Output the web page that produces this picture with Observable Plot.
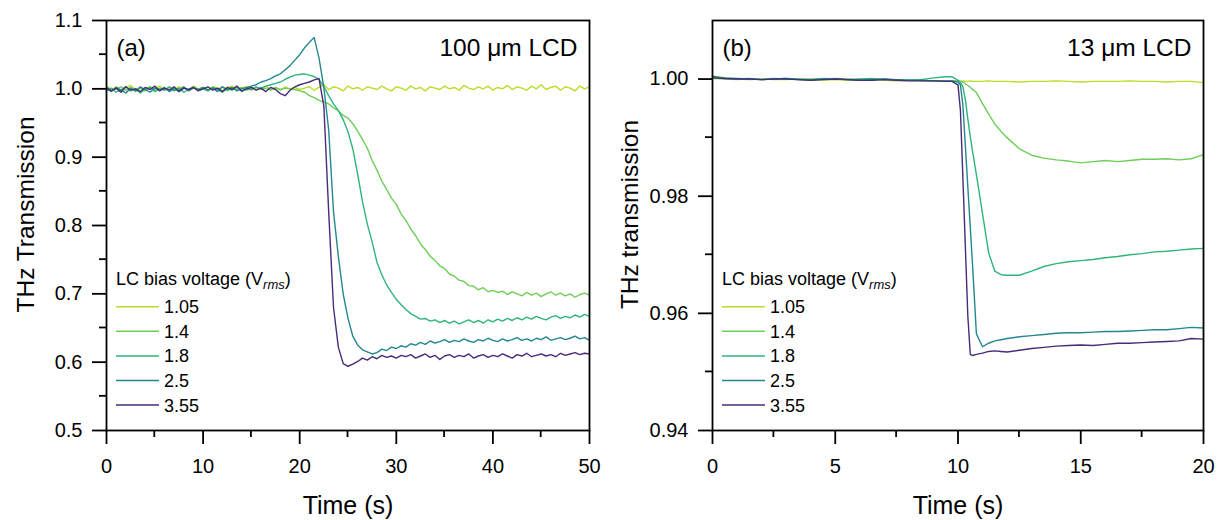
<!DOCTYPE html>
<html><head><meta charset="utf-8">
<script src="https://cdn.jsdelivr.net/npm/d3@7"></script>
<script src="https://cdn.jsdelivr.net/npm/@observablehq/plot@0.6"></script>
<style>
body{margin:0;background:#fff;}
#wrap{display:flex;width:1222px;height:520px;}
</style></head><body><div id="wrap"></div>
<script>
const FONT = "'Liberation Sans', Arial, sans-serif";
const voltages = ["1.05","1.4","1.8","2.5","3.55"];
const colors = ["#b8de29","#6ece58","#2fb47c","#23888e","#472c7a"];

// Panel (a): 100 um LCD, sampled every 0.5 s from 0 to 50 s
const timeA = d3.range(101).map(i => i / 2);
const a105 = [1.004,0.999,1.003,0.998,1.002,1.005,0.999,1.001,0.997,1.003,1.000,1.004,0.998,1.002,0.999,1.003,1.001,0.998,1.004,1.000,1.002,
 0.999,1.003,1.001,0.997,1.002,1.004,0.999,1.001,1.003,0.998,1.002,1.000,1.004,0.999,1.001,0.998,1.003,1.000,1.002,0.999,
 1.001,1.003,0.998,1.002,1.006,0.999,1.003,1.001,0.997,1.004,1.000,1.002,0.998,1.003,1.001,0.999,1.004,1.000,0.997,1.003,
 1.001,0.998,1.004,1.000,1.002,0.997,1.003,1.001,0.999,1.004,1.000,1.002,0.998,1.005,1.001,0.999,1.003,1.000,1.004,0.998,
 1.002,1.000,1.005,0.999,1.003,1.001,0.998,1.004,1.000,1.006,0.999,1.002,1.004,0.998,1.003,1.001,0.997,1.004,1.000,1.003];
const a14 = [1.001,0.997,1.000,1.003,0.998,1.002,0.996,1.001,0.999,1.003,0.997,1.001,0.998,1.002,1.000,0.996,1.001,0.998,1.003,0.999,1.001,
 0.998,1.002,0.999,1.003,0.997,1.001,0.999,1.002,0.998,1.000,1.003,0.999,1.001,0.998,1.002,0.999,1.001,1.000,0.999,0.997,
 0.995,0.990,0.987,0.983,0.981,0.978,0.972,0.968,0.961,0.957,0.949,0.938,0.926,0.913,0.895,0.881,0.865,0.853,0.840,0.831,
 0.817,0.807,0.795,0.785,0.773,0.765,0.755,0.749,0.741,0.737,0.729,0.726,0.720,0.718,0.712,0.711,0.706,0.709,0.703,0.705,
 0.702,0.704,0.699,0.703,0.700,0.697,0.702,0.698,0.701,0.696,0.700,0.703,0.698,0.701,0.697,0.700,0.695,0.699,0.701,0.698];
const a18 = [0.998,1.001,0.995,0.999,1.003,0.997,1.000,0.994,0.999,1.002,0.996,1.000,0.998,1.003,0.997,1.001,0.995,0.999,1.002,0.998,1.000,
 0.997,1.002,0.999,0.995,1.001,0.998,1.003,0.996,1.000,0.999,1.002,1.001,1.004,1.006,1.008,1.010,1.014,1.017,1.020,1.021,
 1.022,1.020,1.018,1.014,1.003,0.990,0.978,0.968,0.955,0.937,0.912,0.875,0.835,0.802,0.776,0.746,0.728,0.713,0.702,0.692,
 0.684,0.677,0.671,0.667,0.663,0.664,0.660,0.662,0.658,0.661,0.657,0.660,0.656,0.659,0.662,0.658,0.661,0.657,0.662,0.659,
 0.663,0.660,0.664,0.661,0.665,0.662,0.666,0.663,0.667,0.664,0.662,0.666,0.668,0.664,0.667,0.665,0.669,0.666,0.670,0.667];
const a25 = [1.000,0.996,1.002,0.998,0.994,1.001,0.997,1.003,0.999,0.995,1.001,0.998,1.002,0.996,1.000,0.998,1.003,0.997,1.001,0.999,1.002,
 0.998,1.001,0.996,1.003,0.999,1.002,0.997,1.000,1.002,1.004,1.006,1.010,1.012,1.015,1.019,1.022,1.028,1.034,1.042,1.050,
 1.060,1.068,1.075,1.045,1.002,0.940,0.820,0.755,0.700,0.664,0.638,0.625,0.618,0.615,0.612,0.614,0.619,0.617,0.622,0.620,
 0.624,0.622,0.627,0.625,0.629,0.626,0.631,0.628,0.630,0.633,0.629,0.632,0.630,0.634,0.631,0.629,0.633,0.631,0.635,0.632,
 0.630,0.634,0.631,0.633,0.636,0.632,0.634,0.631,0.635,0.633,0.637,0.632,0.634,0.636,0.633,0.635,0.638,0.634,0.636,0.632];
const a355 = [1.002,0.997,1.001,0.995,1.003,0.998,1.000,0.996,1.002,0.999,1.004,0.997,1.001,0.998,1.003,0.996,1.001,0.999,1.002,0.997,1.000,
 1.003,0.998,1.001,0.996,1.002,0.999,1.004,0.997,1.000,1.002,0.998,1.001,0.996,1.002,0.999,0.993,0.990,0.998,1.003,1.006,
 1.008,1.010,1.013,1.015,0.975,0.820,0.680,0.622,0.598,0.594,0.597,0.601,0.606,0.603,0.608,0.605,0.610,0.607,0.609,0.606,
 0.610,0.608,0.611,0.606,0.609,0.612,0.607,0.610,0.604,0.609,0.611,0.607,0.610,0.608,0.612,0.606,0.609,0.611,0.607,0.610,
 0.608,0.612,0.609,0.606,0.611,0.609,0.613,0.608,0.610,0.612,0.609,0.611,0.608,0.613,0.610,0.612,0.614,0.611,0.613,0.612];

// Panel (b): 13 um LCD
const timeB = [0,0.5,1,1.5,2,2.5,3,3.5,4,4.5,5,5.5,6,6.5,7,7.5,8,8.5,9,9.5,9.75,10,10.1,10.2,10.3,10.4,10.5,10.6,10.75,
 11,11.25,11.5,11.75,12,12.5,13,13.5,14,14.5,15,15.5,16,16.5,17,17.5,18,18.5,19,19.5,20];
const b105 = [1.0001,1.0000,0.9999,1.0000,1.0000,0.9999,0.9999,1.0000,0.9999,0.9998,0.9999,0.9998,0.9998,0.9999,0.9998,0.9997,0.9998,0.9997,0.9997,0.9997,
 0.9996,0.9997,0.9996,0.9997,0.9996,0.9996,0.9997,0.9996,0.9996,0.9996,0.9997,0.9996,0.9996,0.9996,0.9995,0.9996,0.9996,0.9997,0.9996,0.9995,
 0.9996,0.9996,0.9996,0.9997,0.9996,0.9996,0.9995,0.9996,0.9996,0.9994];
const b14 = [1.0002,1.0001,1.0000,0.9999,1.0000,1.0001,1.0000,0.9999,1.0000,1.0000,1.0001,1.0000,0.9999,0.9999,1.0000,0.9998,0.9998,0.9998,0.9997,0.9997,
 0.9997,0.9997,0.9996,0.9995,0.9992,0.9989,0.9986,0.9982,0.9977,0.9958,0.9940,0.9923,0.9911,0.9900,0.9881,0.9870,0.9865,0.9862,0.9860,0.9857,
 0.9859,0.9861,0.9859,0.9861,0.9863,0.9863,0.9864,0.9862,0.9864,0.9871];
const b18 = [1.0003,1.0001,1.0000,1.0001,0.9999,1.0000,1.0001,1.0000,0.9999,1.0001,1.0000,0.9999,1.0000,1.0001,0.9999,0.9999,0.9998,0.9999,1.0002,1.0004,
 1.0004,0.9998,0.9994,0.9987,0.9965,0.9932,0.9902,0.9875,0.9837,0.9770,0.9703,0.9672,0.9666,0.9665,0.9665,0.9672,0.9680,0.9685,0.9688,0.9690,
 0.9692,0.9695,0.9697,0.9700,0.9702,0.9705,0.9706,0.9708,0.9710,0.9711];
const b25 = [1.0005,1.0002,1.0001,1.0000,0.9999,1.0000,1.0001,0.9999,0.9998,1.0000,1.0000,0.9999,0.9998,0.9999,1.0000,0.9999,0.9998,0.9998,0.9997,0.9997,
 0.9997,0.9995,0.9990,0.9955,0.9886,0.9816,0.9747,0.9677,0.9565,0.9543,0.9549,0.9553,0.9555,0.9557,0.9560,0.9562,0.9564,0.9566,0.9567,0.9567,
 0.9568,0.9569,0.9569,0.9570,0.9571,0.9572,0.9572,0.9574,0.9576,0.9575];
const b355 = [1.0002,1.0001,1.0000,1.0000,0.9999,1.0000,1.0000,0.9999,0.9998,0.9999,1.0000,0.9999,0.9998,0.9998,0.9999,0.9998,0.9997,0.9997,0.9997,0.9996,
 0.9996,0.9990,0.9946,0.9830,0.9713,0.9596,0.9530,0.9528,0.9530,0.9532,0.9535,0.9536,0.9535,0.9534,0.9537,0.9540,0.9542,0.9544,0.9545,0.9546,
 0.9545,0.9547,0.9549,0.9549,0.9550,0.9551,0.9552,0.9553,0.9557,0.9556];

// Axis ticks
const xTicksA = [0,10,20,30,40,50], xMinorA = [5,15,25,35,45];
const yTicksA = [0.5,0.6,0.7,0.8,0.9,1.0,1.1], yMinorA = [0.55,0.65,0.75,0.85,0.95,1.05];
const xTicksB = [0,5,10,15,20], xMinorB = [2.5,7.5,12.5,17.5];
const yTicksB = [0.94,0.96,0.98,1.00], yMinorB = [0.95,0.97,0.99];

function panel(cfg) {
  const rows = [];
  voltages.forEach((v, k) => cfg.series[k].forEach((y, i) => rows.push({t: cfg.times[i], y, volt: v})));
  const svg = Plot.plot({
    width: 611, height: 520,
    marginLeft: cfg.ml, marginRight: cfg.mr, marginTop: 20, marginBottom: 90,
    style: {fontFamily: FONT, fontSize: "20px", color: "#000", background: "#fff", overflow: "visible"},
    x: {domain: cfg.xDomain},
    y: {domain: cfg.yDomain},
    color: {domain: voltages, range: colors},
    marks: [
      Plot.line(rows, {x: "t", y: "y", z: "volt", stroke: "volt", strokeWidth: 1.4}),
      Plot.frame({stroke: "#000", strokeWidth: 1.8}),
      Plot.axisX({ticks: cfg.xTicks, tickSize: 14, tickPadding: 14, tickFormat: d => String(d), label: null, strokeWidth: 1.8}),
      Plot.axisY({ticks: cfg.yTicks, tickSize: 14, tickPadding: 10, tickFormat: d3.format(cfg.yFmt), label: null, strokeWidth: 1.8}),
      Plot.text([cfg.yTitle], {frameAnchor: "left", dx: cfg.yTitleDx, dy: -11, rotate: -90, textAnchor: "middle", lineAnchor: "bottom", fontSize: 24.5}),
      Plot.text(["Time (s)"], {frameAnchor: "bottom", dy: 83, textAnchor: "middle", lineAnchor: "bottom", fontSize: 25}),
      Plot.text([cfg.tag], {frameAnchor: "top-left", dx: 10, dy: 35, textAnchor: "start", lineAnchor: "bottom", fontSize: 24}),
      Plot.text([cfg.name], {frameAnchor: "top-right", dx: -12, dy: 35, textAnchor: "end", lineAnchor: "bottom", fontSize: 24.5})
    ]
  });
  const xs = svg.scale("x"), ys = svg.scale("y");
  const g = d3.select(svg).append("g").attr("font-family", FONT).attr("fill", "#000").attr("text-anchor", "start");
  // minor ticks placed through the plot's own scales
  const bottom = 520 - 90, left = cfg.ml;
  cfg.xMinor.forEach(v => g.append("line").attr("x1", xs.apply(v)).attr("x2", xs.apply(v))
    .attr("y1", bottom).attr("y2", bottom + 7).attr("stroke", "#000").attr("stroke-width", 1.8));
  cfg.yMinor.forEach(v => g.append("line").attr("y1", ys.apply(v)).attr("y2", ys.apply(v))
    .attr("x1", left).attr("x2", left - 7).attr("stroke", "#000").attr("stroke-width", 1.8));
  // legend
  const lx = cfg.ml + 10;
  const t = g.append("text").attr("x", lx).attr("y", 285).attr("font-size", 18);
  t.append("tspan").text("LC bias voltage (V");
  t.append("tspan").attr("font-style", "italic").attr("font-size", 13).attr("dy", 4).text("rms");
  t.append("tspan").attr("dy", -4).text(")");
  voltages.forEach((v, k) => {
    const y = 306.7 + k * 24.6;
    g.append("line").attr("x1", lx).attr("x2", lx + 43).attr("y1", y).attr("y2", y)
      .attr("stroke", colors[k]).attr("stroke-width", 1.5);
    g.append("text").attr("x", lx + 48).attr("y", y + 6.5).attr("font-size", 18).text(v);
  });
  return svg;
}

const wrap = document.getElementById("wrap");
wrap.append(panel({
  times: timeA, series: [a105, a14, a18, a25, a355],
  xDomain: [0, 50], yDomain: [0.5, 1.1],
  xTicks: xTicksA, xMinor: xMinorA, yTicks: yTicksA, yMinor: yMinorA, yFmt: ".1f",
  yTitle: "THz Transmission", yTitleDx: -73, tag: "(a)", name: "100 \u03bcm LCD",
  ml: 106, mr: 22
}));
wrap.append(panel({
  times: timeB, series: [b105, b14, b18, b25, b355],
  xDomain: [0, 20], yDomain: [0.94, 1.01],
  xTicks: xTicksB, xMinor: xMinorB, yTicks: yTicksB, yMinor: yMinorB, yFmt: ".2f",
  yTitle: "THz transmission", yTitleDx: -75, tag: "(b)", name: "13 \u03bcm LCD",
  ml: 101, mr: 19
}));
</script></body></html>
